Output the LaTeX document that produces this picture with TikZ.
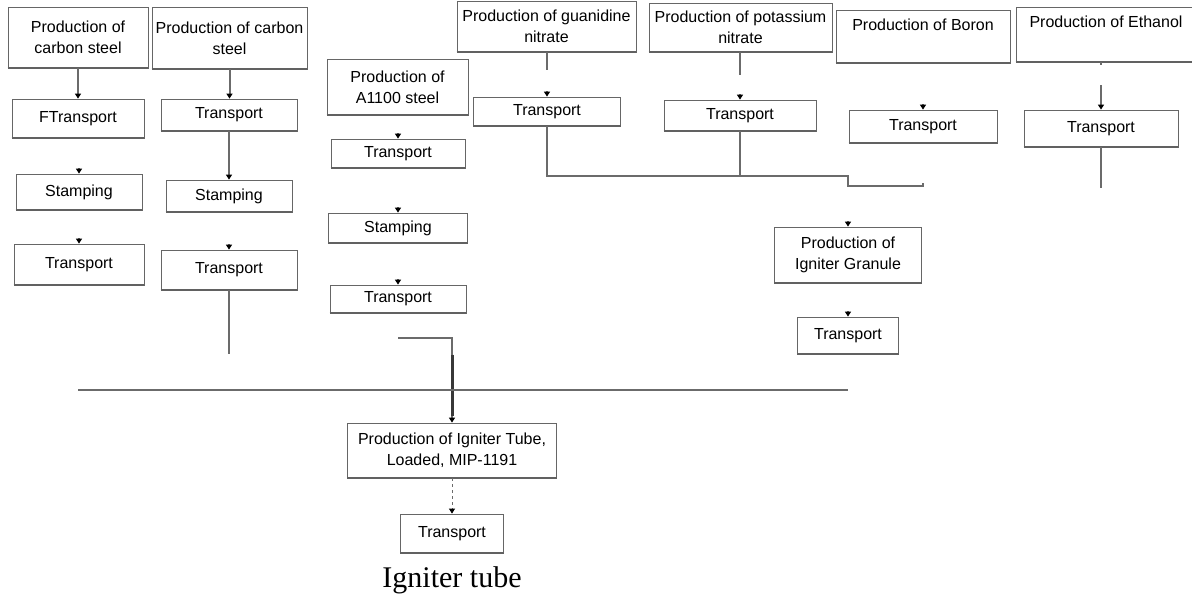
\documentclass[tikz,border=0pt]{standalone}
\usepackage{fontspec}
\setmainfont{Liberation Sans}
\newfontfamily\tubefont{Liberation Serif}
\usetikzlibrary{arrows.meta}
\begin{document}
\begin{tikzpicture}[x=1pt,y=-1pt,
  box/.style={draw=black!60, line width=0.8pt, fill=white, align=center,
    inner sep=2pt, font=\fontsize{16}{21}\selectfont},
  flow/.style={draw=black!58, line width=2pt,
    -{Triangle[length=5pt,width=6pt,color=black]}},
  wire/.style={draw=black!58, line width=2pt},
  darkwire/.style={draw=black!78, line width=3pt},
  stub/.style={flow, shorten <=#1},
  shadowline/.style={draw=black!62, line width=2pt},
]
\useasboundingbox (0,0) rectangle (1192,595);

% ---- steel for the tube body ----
\node[box, minimum width=140pt, minimum height=61pt] (b1) at (78,37.5) {Production of\\carbon steel};
\node[box, minimum width=132pt, minimum height=39pt] (ft) at (78,118.5) {FTransport};
\node[box, minimum width=126pt, minimum height=36pt] (st1) at (79,192) {Stamping};
\node[box, minimum width=130pt, minimum height=41pt] (tr1) at (79,264.5) {Transport};

\node[box, minimum width=155pt, minimum height=62pt] (b2) at (229.5,38) {Production of carbon\\steel};
\node[box, minimum width=136pt, minimum height=32pt] (t2) at (229,115) {Transport};
\node[box, minimum width=126pt, minimum height=32pt] (s2) at (229,196) {Stamping};
\node[box, minimum width=136pt, minimum height=40pt] (t2b) at (229,270) {Transport};

\node[box, minimum width=141pt, minimum height=56pt] (A) at (397.5,87) {Production of\\A1100 steel};
\node[box, minimum width=134pt, minimum height=29pt] (at) at (398,153.5) {Transport};
\node[box, minimum width=139pt, minimum height=30pt] (as) at (398,228) {Stamping};
\node[box, minimum width=136pt, minimum height=28pt] (at2) at (398,299) {Transport};

% ---- igniter granule ingredients ----
\node[box, minimum width=179pt, minimum height=51pt] (g) at (546.5,26.5) {Production of guanidine\\nitrate};
\node[box, minimum width=147pt, minimum height=29pt] (gt) at (547,111.5) {Transport};

\node[box, minimum width=183pt, minimum height=49pt] (p) at (740.5,27.5) {Production of potassium\\nitrate};
\node[box, minimum width=152pt, minimum height=31pt] (pt) at (740,115.5) {Transport};

\node[box, minimum width=174pt, minimum height=53pt, text depth=23pt] (bo) at (923,36.5) {Production of Boron};
\node[box, minimum width=148pt, minimum height=33pt] (bt) at (923,126.5) {Transport};

\node[box, minimum width=180pt, minimum height=55pt, text depth=25pt] (e) at (1106,34.5) {Production of Ethanol};
\node[box, minimum width=154pt, minimum height=37pt] (et) at (1101,128.5) {Transport};

\node[box, minimum width=147pt, minimum height=56pt] (gr) at (848,255) {Production of\\Igniter Granule};
\node[box, minimum width=101pt, minimum height=37pt] (grt) at (848,335.5) {Transport};

% ---- final assembly ----
\node[box, minimum width=209pt, minimum height=55pt] (tube) at (452,450.5) {Production of Igniter Tube,\\Loaded, MIP-1191};
\node[box, minimum width=103pt, minimum height=39pt] (ttr) at (452,533.5) {Transport};
\node[font=\tubefont\fontsize{30}{36}\selectfont] (cap) at (452,580) {Igniter tube};

% heavier lower edges of the boxes
\foreach \n in {b1,ft,st1,tr1,b2,t2,s2,t2b,A,at,as,at2,g,gt,p,pt,bo,bt,e,et,gr,grt,tube,ttr}
  \draw[shadowline] (\n.south west) -- (\n.south east);

% ---- connectors: first steel line ----
\draw[flow] (b1.south) -- (b1.south |- ft.north);
\draw[stub=30pt] (st1.north |- ft.south) -- (st1.north);
\draw[stub=28pt] (tr1.north |- st1.south) -- (tr1.north);

% ---- second steel line ----
\draw[flow] (b2.south) -- (b2.south |- t2.north);
\draw[flow] (t2.south) -- (t2.south |- s2.north);
\draw[stub=32pt] (t2b.north |- s2.south) -- (t2b.north);
\draw[wire] (t2b.south) -- ++(0,64);

% ---- A1100 line ----
\draw[stub=18pt] (at.north |- A.south) -- (at.north);
\draw[stub=39pt] (as.north |- at.south) -- (as.north);
\draw[stub=36pt] (at2.north |- as.south) -- (at2.north);
\coordinate (aturn) at (398,338);
\draw[flow] (aturn) -| (tube.north);
\draw[darkwire] ([yshift=68pt]tube.north) -- ([yshift=7pt]tube.north);

% ---- granule ingredients ----
\coordinate (j1) at (848,176);
\coordinate (j2) at (848,186);
\coordinate (j3) at (923,186);
\draw[wire] (g.south) -- ++(0,18);
\draw[stub=39pt] (gt.north |- g.south) -- (gt.north);
\draw[wire] (gt.south) |- (j1) -- (j2) -- (j3) -- ++(0,-3);

\draw[wire] (pt.north |- p.south) -- ++(0,23);
\draw[stub=42pt] (pt.north |- p.south) -- (pt.north);
\draw[wire] (pt.south) -- (pt.south |- j1);

\draw[stub=41pt] (bt.north |- bo.south) -- (bt.north);

\draw[wire] (et.north |- e.south) -- ++(0,3);
\draw[stub=23pt] (et.north |- e.south) -- (et.north);
\draw[wire] (et.south) -- ++(0,41);

\draw[stub=35pt] (gr.north |- j2) -- (gr.north);
\draw[stub=28pt] (gr.south) -- (grt.north);

% ---- collecting line ----
\coordinate (busL) at (78,390);
\draw[wire] (busL) -- (busL -| grt.south);

% ---- final transport ----
\draw[flow, dashed, line width=0.8pt] (tube.south) -- (ttr.north);
\end{tikzpicture}
\end{document}
